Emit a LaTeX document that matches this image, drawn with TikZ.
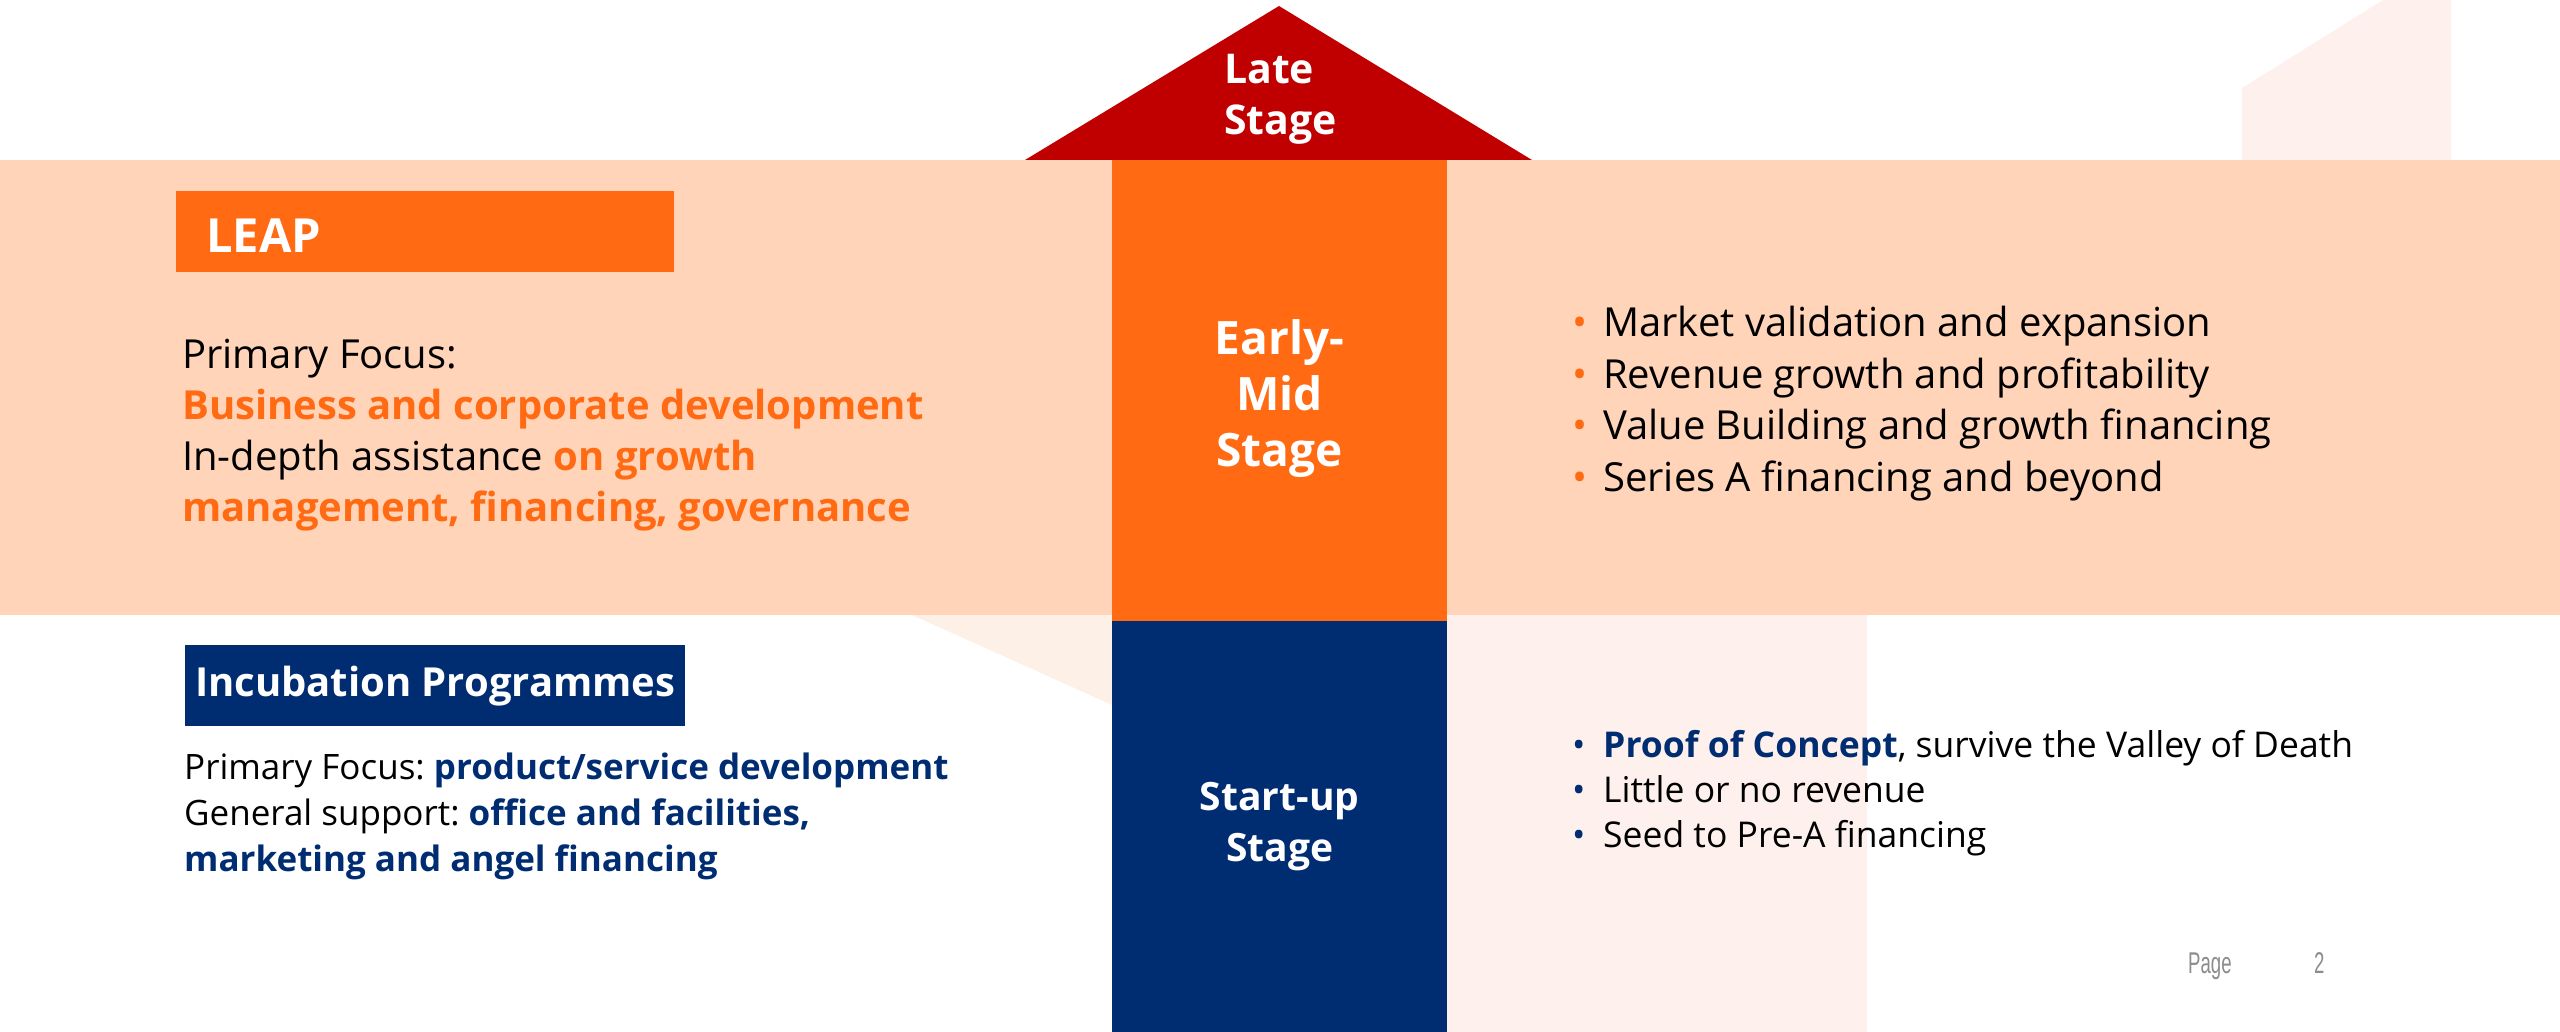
\documentclass[tikz,border=0pt]{standalone}
\usepackage{fontspec}
\setmainfont{Open Sans}
\newfontfamily\pagefont[FakeStretch=0.62]{Liberation Sans}
\usetikzlibrary{positioning}

\definecolor{peach}{HTML}{FFD4B8}
\definecolor{leaporange}{HTML}{FF6A13}
\definecolor{latered}{HTML}{C00000}
\definecolor{navy}{HTML}{002D72}
\definecolor{faintpeach}{HTML}{FDF0E6}
\definecolor{faintpink}{HTML}{FEF0EC}
\definecolor{pagegray}{HTML}{8C8C8C}

\newcommand{\stagebullet}[1]{\makebox[31pt][l]{\textcolor{#1}{\textbullet}}}

\begin{document}
\begin{tikzpicture}[x=1pt,y=-1pt,inner sep=0pt,
	stagebox/.style={anchor=north west,minimum width=335pt},
	stagelabel/.style={text=white,align=center},
	titlebox/.style={anchor=north west,minimum height=81pt,text=white},
	bodytext/.style={anchor=base west,align=left}]
	\useasboundingbox (0,0) rectangle (2560,1032);
	% faint shapes behind
	\fill[faintpeach] (912,615) -- (1112,615) -- (1112,705) -- cycle;
	\fill[faintpink] (1447,615) rectangle (1867,1032);
	\fill[faintpink] (2242,160) -- (2242,88) -- (2383,0) -- (2451,0) -- (2451,160) -- cycle;
	\fill[peach] (0,160) rectangle (2560,615);
	% stages
	\fill[latered] (1025,160) -- (1279,6) -- (1532,160) -- cycle;
	\node[bodytext,text=white,font=\fontsize{41}{51}\selectfont\bfseries] (late) at (1224,135) {Late\\Stage};
	\node[stagebox,fill=leaporange,minimum height=461pt] (early) at (1112,160) {};
	\node[stagelabel,font=\fontsize{46}{56}\selectfont\bfseries,yshift=-8pt] (earlylabel) at (early.center) {Early-\\Mid\\Stage};
	\node[stagebox,fill=navy,minimum height=411pt] (startup) at (1112,621) {};
	\node[stagelabel,font=\fontsize{39}{51}\selectfont\bfseries] (startuplabel) at (startup.center) {Start-up\\Stage};
	% LEAP
	\node[titlebox,fill=leaporange,minimum width=498pt,inner xsep=30pt,text width=438pt,align=left,text height=41pt,text depth=0pt,font=\fontsize{47}{50}\selectfont\bfseries] (leap) at (176,191) {LEAP};
	\node[bodytext,font=\fontsize{40}{51}\selectfont] (leaptext) at (182,521) {Primary Focus:\\
		\textcolor{leaporange}{\bfseries Business and corporate development}\\
		In-depth assistance \textcolor{leaporange}{\bfseries on growth}\\
		\textcolor{leaporange}{\bfseries management, financing, governance}};
	\node[bodytext,font=\fontsize{40}{51.5}\selectfont] (earlylist) at (1572,491) {\stagebullet{leaporange}Market validation and expansion\\
		\stagebullet{leaporange}Revenue growth and profitability\\
		\stagebullet{leaporange}Value Building and growth financing\\
		\stagebullet{leaporange}Series A financing and beyond};
	% incubation
	\node[titlebox,fill=navy,minimum width=500pt,font=\fontsize{40}{50}\selectfont\bfseries] (incub) at (185,645) {Incubation Programmes};
	\node[bodytext,font=\fontsize{35}{46}\selectfont] (incubtext) at (184,871) {Primary Focus:\kern-3pt{} \textcolor{navy}{\bfseries product/service development}\\
		General support:\kern-3pt{} \textcolor{navy}{\bfseries office and facilities,}\\
		\textcolor{navy}{\bfseries marketing and angel financing}};
	\node[bodytext,font=\fontsize{35.5}{45}\selectfont] (startlist) at (1572,847) {\stagebullet{navy}\textcolor{navy}{\bfseries Proof of Concept}, survive the Valley of Death\\
		\stagebullet{navy}Little or no revenue\\
		\stagebullet{navy}Seed to Pre-A financing};
	% page number
	\node[anchor=base west,text=pagegray,font=\pagefont\fontsize{30}{36}\selectfont] (pagelabel) at (2188,973) {Page};
	\node[anchor=base west,text=pagegray,font=\pagefont\fontsize{30}{36}\selectfont] (pagenum) at (2314,973) {2};
\end{tikzpicture}
\end{document}
